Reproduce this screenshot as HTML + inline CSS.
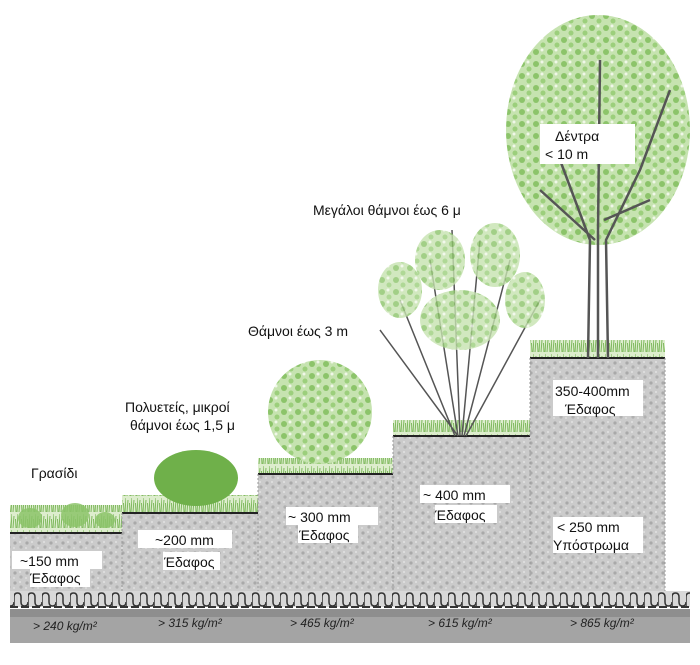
<!DOCTYPE html>
<html><head><meta charset="utf-8"><style>
body{margin:0;background:#fff}
svg{display:block}
text{font-family:"Liberation Sans",sans-serif}
</style></head><body>
<svg width="700" height="665" viewBox="0 0 700 665" xmlns="http://www.w3.org/2000/svg">
<defs>
<pattern id="soil" width="12" height="10" patternUnits="userSpaceOnUse">
<rect width="12" height="10" fill="#cbcbcb"/>
<circle cx="3" cy="3" r="1.6" fill="#a9a9a9"/>
<circle cx="9" cy="7" r="1.6" fill="#b0b0b0"/>
<circle cx="8" cy="2" r="1" fill="#e2e2e2"/>
<circle cx="2" cy="8" r="1" fill="#e0e0e0"/>
</pattern>
<pattern id="leaf" width="14" height="12" patternUnits="userSpaceOnUse">
<rect width="14" height="12" fill="#c6e3b0"/>
<circle cx="4" cy="4" r="3" fill="#8cc46a"/>
<circle cx="11" cy="9" r="2.5" fill="#9ccf7c"/>
<circle cx="10" cy="2" r="1.5" fill="#f0f7e8"/>
</pattern>
<pattern id="wave" width="14" height="16" patternUnits="userSpaceOnUse">
<rect width="14" height="16" fill="#d8d8d8"/>
<path d="M0 14 V5 Q0 1 3.5 1 Q7 1 7 5 V10 Q7 14 10.5 14 Q14 14 14 10" fill="none" stroke="#333" stroke-width="1.5"/>
</pattern>
<pattern id="grass" width="6" height="16" patternUnits="userSpaceOnUse">
<rect width="6" height="16" fill="#d9ebc7"/>
<path d="M1 16 L2 4 M4 16 L3.5 7 M5 16 L6 2" stroke="#6fb04a" stroke-width="1"/>
</pattern>
</defs>
<rect x="10" y="533" width="112" height="58" fill="url(#soil)"/>
<rect x="122" y="513" width="136" height="78" fill="url(#soil)"/>
<rect x="258" y="474" width="135" height="117" fill="url(#soil)"/>
<rect x="393" y="436" width="137" height="155" fill="url(#soil)"/>
<rect x="530" y="358" width="135" height="233" fill="url(#soil)"/>
<rect x="10" y="505" width="112" height="28" fill="url(#grass)" opacity=".9"/>
<rect x="122" y="495" width="136" height="18" fill="url(#grass)" opacity=".9"/>
<rect x="258" y="458" width="135" height="16" fill="url(#grass)" opacity=".9"/>
<rect x="393" y="420" width="137" height="16" fill="url(#grass)" opacity=".9"/>
<rect x="530" y="340" width="135" height="18" fill="url(#grass)" opacity=".9"/>
<g stroke="#222" stroke-width="2">
<line x1="10" y1="533" x2="122" y2="533"/><line x1="122" y1="513" x2="258" y2="513"/>
<line x1="258" y1="474" x2="393" y2="474"/><line x1="393" y1="436" x2="530" y2="436"/>
<line x1="530" y1="358" x2="665" y2="358"/>
</g>
<g stroke="#999" stroke-width="1" stroke-dasharray="2 2">
<line x1="122" y1="513" x2="122" y2="591"/><line x1="258" y1="474" x2="258" y2="591"/>
<line x1="393" y1="436" x2="393" y2="591"/><line x1="530" y1="358" x2="530" y2="591"/><line x1="665" y1="358" x2="665" y2="591"/>
</g>
<rect x="10" y="591" width="680" height="16" fill="url(#wave)"/>
<line x1="10" y1="607" x2="690" y2="607" stroke="#333" stroke-width="2" stroke-dasharray="8 3"/>
<rect x="10" y="609" width="680" height="34" fill="#a4a4a4"/>
<rect x="10" y="609" width="680" height="8" fill="#8e8e8e"/>
<g font-size="12" font-style="italic" fill="#222">
<text x="33" y="630">&gt; 240 kg/m²</text>
<text x="158" y="627">&gt; 315 kg/m²</text>
<text x="290" y="627">&gt; 465 kg/m²</text>
<text x="428" y="627">&gt; 615 kg/m²</text>
<text x="570" y="627">&gt; 865 kg/m²</text>
</g>
<g fill="#8cc46a" opacity=".85">
<ellipse cx="30" cy="518" rx="12" ry="10"/><ellipse cx="75" cy="515" rx="14" ry="12"/><ellipse cx="105" cy="520" rx="10" ry="8"/>
</g>
<ellipse cx="196" cy="478" rx="42" ry="28" fill="#6fb04a"/>
<ellipse cx="320" cy="412" rx="52" ry="52" fill="url(#leaf)"/>
<g stroke="#555" stroke-width="1.5" fill="none">
<path d="M455 436 L400 300 M458 436 L430 260 M460 436 L452 230 M462 436 L480 240 M464 436 L510 260 M466 436 L540 300 M458 436 L380 330"/>
</g>
<g fill="url(#leaf)" opacity=".8">
<ellipse cx="400" cy="290" rx="22" ry="28"/><ellipse cx="440" cy="260" rx="25" ry="30"/><ellipse cx="495" cy="255" rx="25" ry="32"/><ellipse cx="525" cy="300" rx="20" ry="28"/><ellipse cx="460" cy="320" rx="40" ry="30"/>
</g>
<ellipse cx="598" cy="130" rx="92" ry="115" fill="url(#leaf)"/>
<g stroke="#555" stroke-width="2.5" fill="none">
<path d="M588 358 L590 240 L560 160 M598 358 L598 230 L600 60 M608 358 L606 240 L640 170 L670 90 M595 240 L540 190 M604 220 L650 200"/>
</g>
<g font-size="14" fill="#111">
<rect x="540" y="124" width="95" height="40" fill="#fff"/>
<text x="555" y="141">Δέντρα</text><text x="545" y="159">&lt; 10 m</text>
<text x="313" y="215">Μεγάλοι θάμνοι έως 6 μ</text>
<text x="248" y="336">Θάμνοι έως 3 m</text>
<text x="125" y="412">Πολυετείς, μικροί</text>
<text x="130" y="430">θάμνοι έως 1,5 μ</text>
<text x="31" y="478">Γρασίδι</text>
<rect x="12" y="551" width="90" height="18" fill="#fff"/><text x="20" y="566">~150 mm</text>
<rect x="30" y="569" width="60" height="18" fill="#fff"/><text x="30" y="583">Έδαφος</text>
<rect x="138" y="530" width="94" height="18" fill="#fff"/><text x="155" y="545">~200 mm</text>
<rect x="163" y="552" width="57" height="18" fill="#fff"/><text x="164" y="567">Έδαφος</text>
<rect x="286" y="507" width="92" height="18" fill="#fff"/><text x="288" y="522">~ 300 mm</text>
<rect x="298" y="525" width="60" height="18" fill="#fff"/><text x="299" y="540">Έδαφος</text>
<rect x="420" y="485" width="90" height="18" fill="#fff"/><text x="423" y="500">~ 400 mm</text>
<rect x="435" y="505" width="62" height="18" fill="#fff"/><text x="435" y="520">Έδαφος</text>
<rect x="553" y="380" width="90" height="36" fill="#fff"/><text x="555" y="396">350-400mm</text><text x="565" y="414">Έδαφος</text>
<rect x="553" y="517" width="90" height="36" fill="#fff"/><text x="557" y="532">&lt; 250 mm</text><text x="553" y="550">Υπόστρωμα</text>
</g>
</svg>
</body></html>
